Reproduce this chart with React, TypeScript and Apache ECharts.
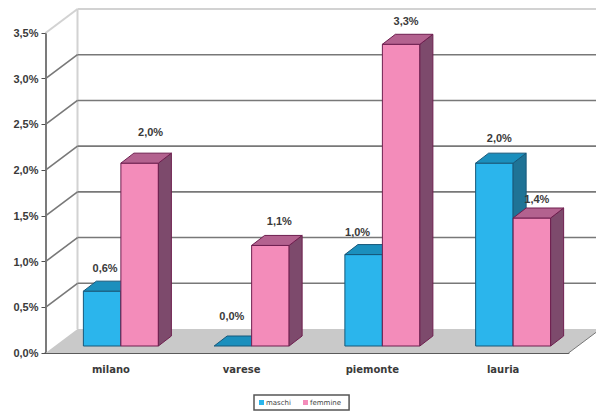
import React, { useEffect, useRef } from "react";
import * as echarts from "echarts";

const categories = ["milano", "varese", "piemonte", "lauria"];
const maschi = [0.6, 0.0, 1.0, 2.0];
const femmine = [2.0, 1.1, 3.3, 1.4];
const yTicks = [0, 0.5, 1, 1.5, 2, 2.5, 3, 3.5];

// Fake 3D projection, in pixels
const WALL_DX = 32;
const WALL_DY = -24;
const BAR_DX = 13;
const BAR_DY = -10;
const BAR_WIDTH = 37.5;
const BAR_CENTER_SHIFT = 10;
const BAR_LIFT = 7;

const comma = (v: number) => v.toFixed(1).replace(".", ",") + "%";

// Small placement tweaks for the value labels: [dx, dy] from the default spot
const maschiNudge = [[3, 0], [-1, -7], [-6, 0], [5, -2]];
const femmineNudge = [[11, -8], [9, -1], [5, 0], [5, 4]];

const palette = {
  blue: { front: "#2bb5ec", top: "#1b8fbd", side: "#1f7396", edge: "#17587a" },
  pink: { front: "#f38cba", top: "#b3628f", side: "#7d4a6c", edge: "#6e1f4f" },
};

function poly(points: number[][], fill: string, stroke: string, lineWidth = 1) {
  return {
    type: "polygon",
    shape: { points },
    style: { fill, stroke, lineWidth },
  };
}

function barRenderer(
  side: -1 | 1,
  colors: { front: string; top: string; side: string; edge: string },
  nudges: number[][],
) {
  return (params: any, api: any) => {
    const idx = api.value(0);
    const value = api.value(1);
    const base = api.coord([idx, 0]);
    const head = api.coord([idx, value]);
    const mid = base[0] + BAR_CENTER_SHIFT;
    const x0 = side < 0 ? mid - BAR_WIDTH : mid;
    const x1 = x0 + BAR_WIDTH;
    const yb = base[1] - BAR_LIFT;
    const yt = head[1] - BAR_LIFT;
    const children: any[] = [];
    if (value > 0) {
      children.push(
        poly([[x0, yb], [x1, yb], [x1, yt], [x0, yt]], colors.front, colors.edge),
        poly(
          [[x1, yb], [x1 + BAR_DX, yb + BAR_DY], [x1 + BAR_DX, yt + BAR_DY], [x1, yt]],
          colors.side,
          colors.edge,
        ),
      );
    }
    children.push(
      poly(
        [[x0, yt], [x1, yt], [x1 + BAR_DX, yt + BAR_DY], [x0 + BAR_DX, yt + BAR_DY]],
        colors.top,
        colors.edge,
      ),
    );
    const [nx, ny] = nudges[idx];
    children.push({
      type: "text",
      z2: 10,
      style: {
        x: (x0 + x1) / 2 + nx,
        y: yt - 23 + ny,
        text: comma(value),
        fill: "#3a3a3a",
        font: 'bold 11px "Liberation Sans"',
        align: "center",
        verticalAlign: "middle",
      },
    });
    return { type: "group", children };
  };
}

// Back wall, side wall and floor; one call per axis tick
function wallRenderer(params: any, api: any) {
  const v = api.value(1);
  const grid = params.coordSys;
  const p = api.coord([0, v]);
  const left = grid.x;
  const right = grid.x + grid.width;
  const y = p[1];
  const isEdge = v === 0 || v === 3.5;
  const stroke = isEdge ? "#d2d2d2" : "#787878";
  const lineWidth = isEdge ? 2 : 1.6;
  const children: any[] = [];
  if (v === 0) {
    children.push(
      poly(
        [
          [left, y],
          [left + WALL_DX, y + WALL_DY],
          [right + WALL_DX, y + WALL_DY],
          [right, y],
        ],
        "#c9c9c9",
        "none",
      ),
      {
        type: "line",
        shape: {
          x1: left + WALL_DX,
          y1: grid.y + WALL_DY,
          x2: left + WALL_DX,
          y2: y + WALL_DY,
        },
        style: { stroke: "#d2d2d2", lineWidth: 2 },
      },
      {
        type: "line",
        shape: { x1: right, y1: y, x2: right + WALL_DX, y2: y + WALL_DY },
        style: { stroke: "#787878", lineWidth: 1 },
      },
    );
  } else {
    children.push(
      {
        type: "line",
        shape: {
          x1: left + WALL_DX,
          y1: y + WALL_DY,
          x2: right + WALL_DX,
          y2: y + WALL_DY,
        },
        style: { stroke, lineWidth },
      },
      {
        type: "line",
        shape: { x1: left, y1: y, x2: left + WALL_DX, y2: y + WALL_DY },
        style: { stroke, lineWidth },
      },
    );
  }
  return { type: "group", children };
}

export default function App() {
  const ref = useRef<HTMLDivElement>(null);

  useEffect(() => {
    document.body.style.margin = "0";
    const chart = echarts.init(ref.current!, null, { renderer: "svg" });
    chart.setOption({
      animation: false,
      backgroundColor: "#ffffff",
      grid: { left: 45.5, top: 33, width: 523, height: 320, containLabel: false },
      legend: {
        left: 254,
        top: 395,
        data: ["maschi", "femmine"],
        icon: "rect",
        itemWidth: 5,
        itemHeight: 5,
        itemGap: 12,
        padding: [4, 8, 4, 5],
        borderColor: "#555555",
        borderWidth: 1.5,
        textStyle: {
          fontFamily: "DejaVu Sans",
          fontSize: 7,
          color: "#444444",
          padding: [0, 0, 0, -3],
        },
      },
      xAxis: {
        type: "category",
        data: categories,
        axisLine: { lineStyle: { color: "#5a5a5a", width: 2 } },
        axisTick: { length: 3, lineStyle: { color: "#5a5a5a", width: 1 } },
        axisLabel: {
          margin: 11,
          fontFamily: "DejaVu Sans",
          fontSize: 10,
          fontWeight: "bold",
          color: "#3a3a3a",
        },
        splitLine: { show: false },
      },
      yAxis: {
        type: "value",
        min: 0,
        max: 3.5,
        interval: 0.5,
        axisLine: { show: true, lineStyle: { color: "#4f4f4f", width: 1.5 } },
        axisTick: { show: true, length: 4, lineStyle: { color: "#4f4f4f", width: 1 } },
        axisLabel: {
          margin: 7,
          fontFamily: "Liberation Sans",
          fontSize: 11,
          fontWeight: "bold",
          color: "#3a3a3a",
          formatter: (v: number) => comma(v),
        },
        splitLine: { show: false },
      },
      series: [
        {
          name: "walls",
          type: "custom",
          z: 1,
          silent: true,
          renderItem: wallRenderer,
          data: yTicks.map((v) => [0, v]),
          encode: { x: 0, y: 1 },
        },
        {
          name: "maschi",
          type: "custom",
          z: 3,
          itemStyle: { color: palette.blue.front },
          renderItem: barRenderer(-1, palette.blue, maschiNudge),
          data: maschi.map((v, i) => [i, v]),
          encode: { x: 0, y: 1 },
        },
        {
          name: "femmine",
          type: "custom",
          z: 4,
          itemStyle: { color: palette.pink.front },
          renderItem: barRenderer(1, palette.pink, femmineNudge),
          data: femmine.map((v, i) => [i, v]),
          encode: { x: 0, y: 1 },
        },
      ],
    });
    return () => chart.dispose();
  }, []);

  return <div ref={ref} style={{ width: 596, height: 412 }} />;
}
